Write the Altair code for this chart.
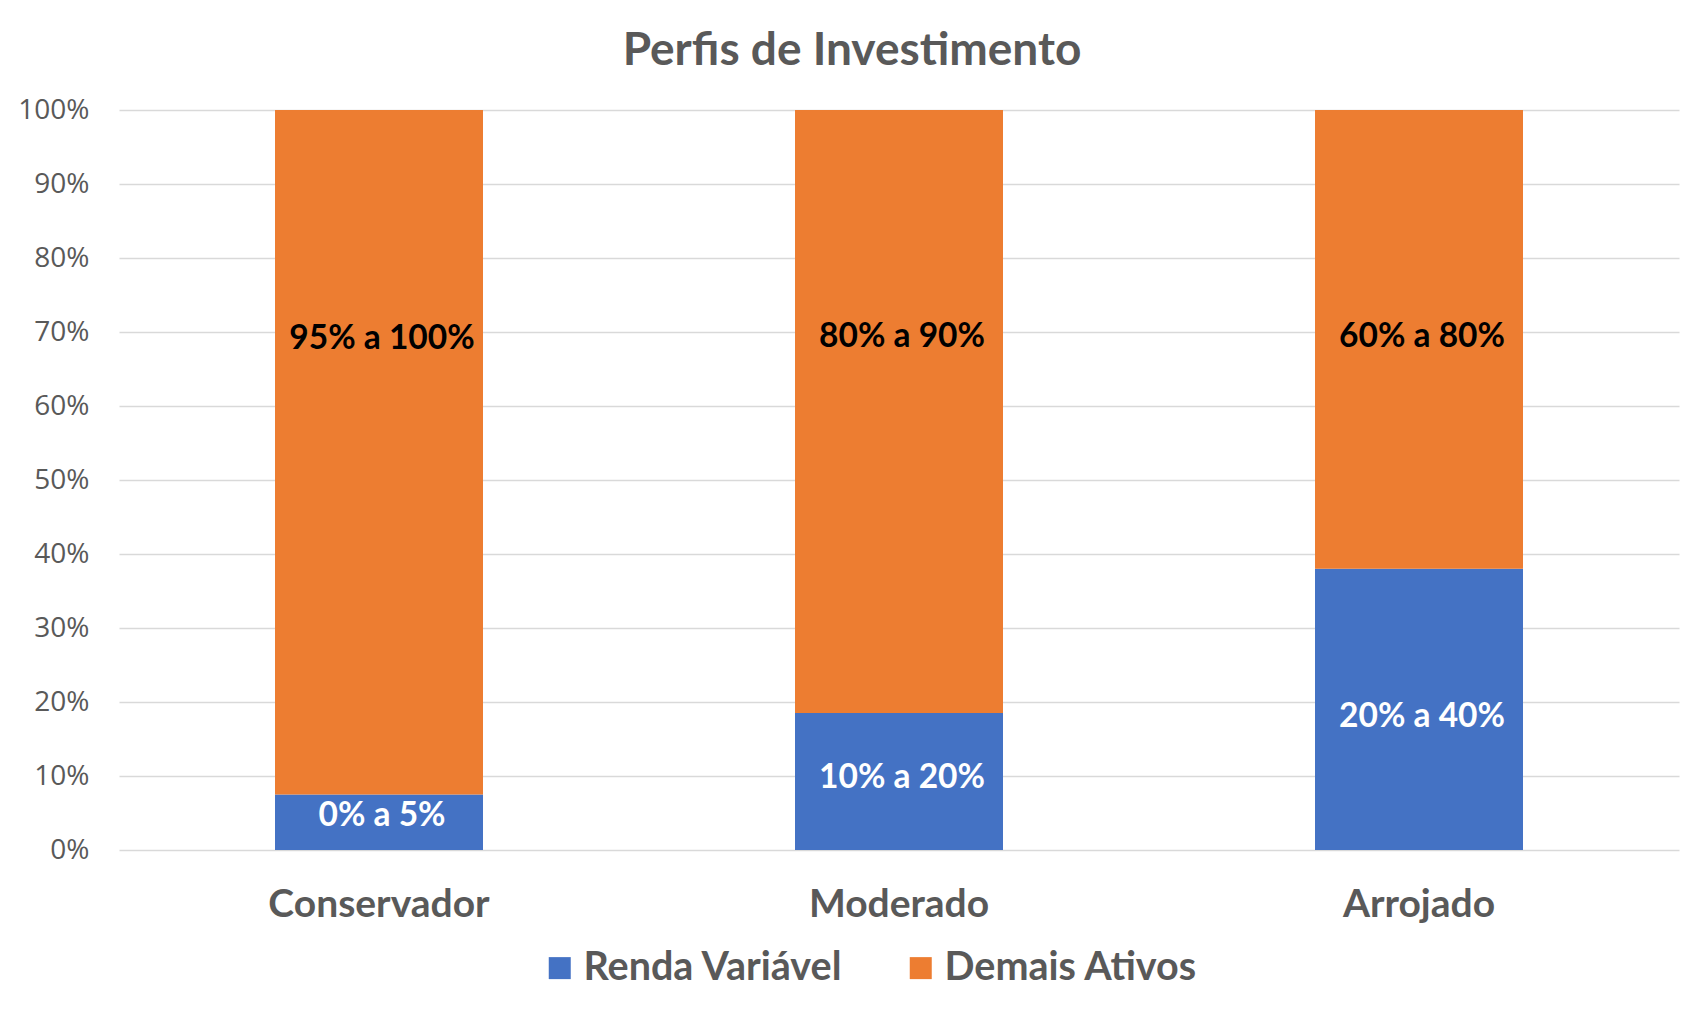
import altair as alt
import pandas as pd

categories = ["Conservador", "Moderado", "Arrojado"]
series = ["Renda Variável", "Demais Ativos"]
renda_variavel = [7.5, 18.5, 38.0]
demais_ativos = [92.5, 81.5, 62.0]
labels_rv = ["0% a 5%", "10% a 20%", "20% a 40%"]
labels_da = ["95% a 100%", "80% a 90%", "60% a 80%"]
label_pos_rv = [4.6, 9.7, 18.0]
label_pos_da = [69.0, 69.3, 69.3]

colors = ["#4472C4", "#ED7D31"]
TEXT = "#595959"

rows = []
for i, c in enumerate(categories):
    rows.append({"cat": c, "serie": series[0], "val": renda_variavel[i], "ord": 0})
    rows.append({"cat": c, "serie": series[1], "val": demais_ativos[i], "ord": 1})
df = pd.DataFrame(rows)

lab_rows = []
for i, c in enumerate(categories):
    lab_rows.append({"cat": c, "txt": labels_rv[i], "pos": label_pos_rv[i], "kind": "rv"})
    lab_rows.append({"cat": c, "txt": labels_da[i], "pos": label_pos_da[i], "kind": "da"})
ldf = pd.DataFrame(lab_rows)

xenc = alt.X("cat:N", sort=categories, title=None,
             scale=alt.Scale(paddingInner=0.6, paddingOuter=0.3),
             axis=alt.Axis(labelAngle=0, domain=False, ticks=False, grid=False,
                           labelFont="Lato", labelFontWeight="bold", labelLimit=0,
                           labelFontSize=39, labelColor=TEXT, labelPadding=35))

bars = alt.Chart(df).mark_bar().encode(
    x=xenc,
    y=alt.Y("val:Q", stack="zero", title=None,
            scale=alt.Scale(domain=[0, 100], nice=False),
            axis=alt.Axis(values=list(range(0, 101, 10)),
                          labelExpr="datum.value + '%'",
                          domain=False, ticks=False, gridColor="#D9D9D9",
                          gridWidth=1.5,
                          labelFont="Open Sans", labelFontSize=28,
                          labelColor=TEXT, labelPadding=30)),
    color=alt.Color("serie:N", scale=alt.Scale(domain=series, range=colors),
                    legend=alt.Legend(title=None, orient="none", direction="horizontal",
                                      legendX=421, legendY=838, labelLimit=0,
                                      symbolType="square", symbolSize=484,
                                      symbolStrokeWidth=0, symbolOpacity=1,
                                      labelFont="Lato", labelFontWeight="bold",
                                      labelFontSize=39.5, labelColor=TEXT,
                                      columnPadding=58, labelOffset=4)),
    order=alt.Order("ord:Q"),
)

texts = alt.Chart(ldf).mark_text(font="Lato", fontWeight="bold", fontSize=33.5,
                                 baseline="middle", align="center", dx=3).encode(
    x=alt.X("cat:N", sort=categories),
    y=alt.Y("pos:Q"),
    text="txt:N",
    color=alt.Color("kind:N", scale=alt.Scale(domain=["rv", "da"], range=["#FFFFFF", "#000000"]),
                    legend=None),
)

chart = alt.layer(bars, texts).resolve_scale(color="independent").properties(
    width=1560, height=740,
    background="white",
    autosize=alt.AutoSizeParams(type="none"),
    padding={"left": 111, "top": 102, "right": 15, "bottom": 157},
    title=alt.TitleParams("Perfis de Investimento", font="Lato", fontWeight="bold",
                          fontSize=46, color=TEXT, anchor="middle", dx=-47, offset=21),
).configure_view(strokeWidth=0, stroke=None).configure_axisX(grid=False)

chart.save("out.html", embed_options={"renderer": "svg", "actions": False})
